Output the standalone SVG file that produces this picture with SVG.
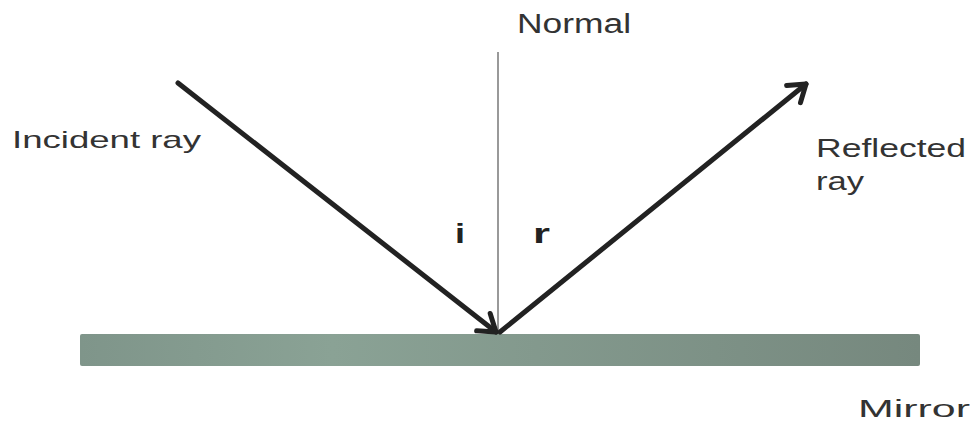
<svg xmlns="http://www.w3.org/2000/svg" width="972" height="425" viewBox="0 0 972 425">
<style>
text{font-family:"Liberation Sans",Arial,sans-serif;fill:#333}
.b{font-weight:bold;font-size:28px;fill:#222}
.ray{stroke:#222;stroke-width:5;fill:none;stroke-linecap:round}
</style>
<defs>
<linearGradient id="mg" x1="0" y1="0" x2="1" y2="0">
<stop offset="0" stop-color="#7f958a"/>
<stop offset="0.3" stop-color="#8aa295"/>
<stop offset="1" stop-color="#76887e"/>
</linearGradient>
<marker id="ah" markerUnits="userSpaceOnUse" markerWidth="40" markerHeight="40" refX="20" refY="20" orient="auto" viewBox="0 0 40 40">
<path d="M4 9 L20 20 L4 31" fill="none" stroke="#222" stroke-width="5" stroke-linecap="round" stroke-linejoin="round"/>
</marker>
</defs>
<g id="mirror">
<rect x="80" y="334" width="840" height="32" rx="2" fill="url(#mg)"/>
<text x="858" y="417" font-size="23" textLength="112" lengthAdjust="spacingAndGlyphs">Mirror</text>
</g>
<g id="normal">
<line x1="498" y1="52" x2="498" y2="334" stroke="#999" stroke-width="2"/>
<text x="517" y="33" font-size="27" textLength="114" lengthAdjust="spacingAndGlyphs">Normal</text>
</g>
<g id="incident">
<text x="12" y="148" font-size="24" textLength="189" lengthAdjust="spacingAndGlyphs">Incident ray</text>
</g>
<g id="reflected">
<text x="816" y="157" font-size="26" textLength="150" lengthAdjust="spacingAndGlyphs">Reflected</text>
<text x="816" y="190" font-size="26" textLength="48" lengthAdjust="spacingAndGlyphs">ray</text>
</g>
<g id="angles">
<text class="b" x="455" y="243" textLength="10" lengthAdjust="spacingAndGlyphs">i</text>
<text class="b" x="533" y="243" textLength="17" lengthAdjust="spacingAndGlyphs">r</text>
</g>
<g id="connectors">
<line class="ray" x1="178" y1="83" x2="496" y2="332" marker-end="url(#ah)"/>
<line class="ray" x1="500" y1="332" x2="806" y2="84" marker-end="url(#ah)"/>
</g>
</svg>
